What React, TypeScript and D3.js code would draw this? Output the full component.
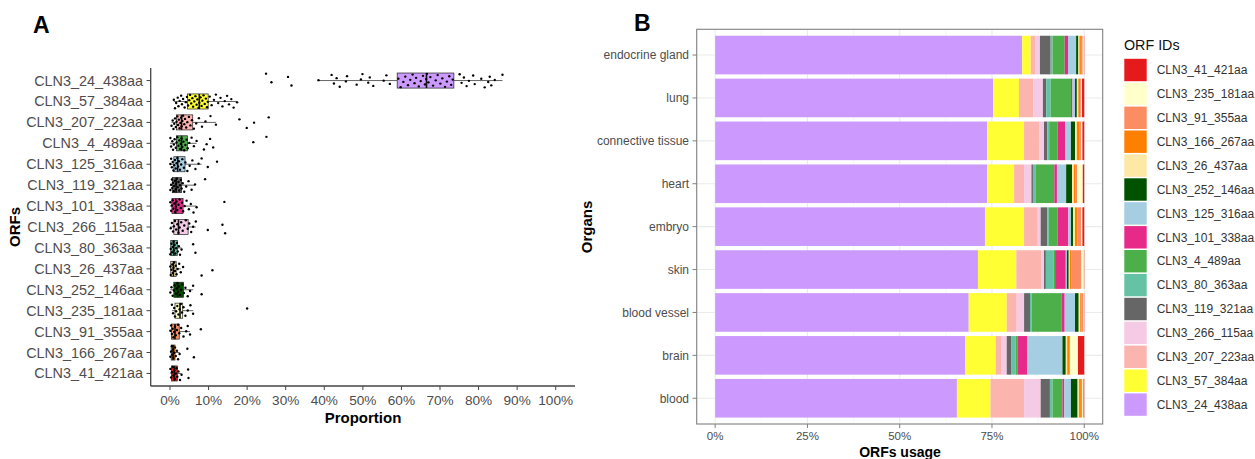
import React from 'react'
import * as d3 from 'd3'

// ---- panel A: ORF proportion boxplots (top -> bottom) ----
const orfs = [
  'CLN3_24_438aa', 'CLN3_57_384aa', 'CLN3_207_223aa', 'CLN3_4_489aa', 'CLN3_125_316aa',
  'CLN3_119_321aa', 'CLN3_101_338aa', 'CLN3_266_115aa', 'CLN3_80_363aa', 'CLN3_26_437aa',
  'CLN3_252_146aa', 'CLN3_235_181aa', 'CLN3_91_355aa', 'CLN3_166_267aa', 'CLN3_41_421aa',
]

const q1 = [58.9, 4.5, 1.7, 1.7, 1.0, 0.6, 0.5, 1.0, 0.2, 0.2, 1.0, 1.3, 0.4, 0.3, 0.4]
const median = [66.5, 7.6, 3.0, 3.0, 2.0, 1.6, 1.5, 2.2, 1.0, 0.9, 2.0, 2.6, 1.3, 0.8, 1.1]
const q3 = [73.6, 9.9, 5.9, 4.5, 3.9, 3.0, 3.4, 4.7, 1.9, 1.6, 3.5, 3.3, 2.4, 1.3, 1.9]
const whiskLo = [38.5, 1.0, 0.4, 0.0, 0.0, 0.0, 0.0, 0.0, 0.0, 0.0, 0.1, 0.5, 0.0, 0.0, 0.1]
const whiskHi = [86.2, 17.4, 11.9, 6.9, 8.2, 6.5, 6.9, 6.7, 3.0, 2.8, 6.0, 6.0, 5.2, 2.5, 3.0]

const pts_24_438 = [24.9, 26.3, 30.6, 31.5, 38.5, 41.9, 42.5, 43.2, 44.0, 45.6, 45.9, 48.4, 49.5, 49.9, 51.4, 51.8, 52.7, 55.4, 56.1, 57.0,
  59.2, 59.8, 60.5, 61.0, 61.7, 62.3, 62.9, 63.4, 63.8, 64.5, 65.0, 65.6, 66.1, 66.4, 66.6, 67.0, 67.5, 68.2, 68.9, 69.4, 70.1, 70.6,
  71.3, 71.8, 72.4, 72.9, 73.3, 75.1, 75.6, 76.2, 76.9, 77.5, 78.6, 79.0, 80.7, 81.6, 82.5, 82.9, 83.3, 84.2, 86.2]
const pts_57_384 = [1.0, 1.3, 1.6, 2.0, 2.2, 2.5, 2.9, 3.1, 3.4, 3.8, 4.1, 4.4, 4.7, 5.0, 5.2, 5.5, 5.8, 6.0, 6.3, 6.6, 6.9, 7.1, 7.4,
  7.6, 7.9, 8.2, 8.4, 8.7, 9.0, 9.3, 9.6, 9.8, 10.3, 10.8, 11.4, 11.9, 12.5, 13.1, 13.6, 14.2, 14.8, 15.3, 15.9, 16.5, 17.4]
const pts_207_223 = [0.4, 0.7, 0.9, 1.1, 1.3, 1.5, 1.7, 1.9, 2.1, 2.3, 2.5, 2.7, 2.9, 3.0, 3.2, 3.4, 3.7, 3.9, 4.2, 4.5, 4.9, 5.3,
  5.7, 6.2, 6.8, 7.5, 8.3, 9.2, 10.5, 11.9, 18.0, 19.9, 21.8, 25.6]
const pts_4_489 = [0.1, 0.3, 0.6, 0.8, 1.0, 1.2, 1.5, 1.7, 1.9, 2.2, 2.4, 2.6, 2.8, 3.0, 3.2, 3.5, 3.7, 4.0, 4.3, 4.6, 5.0, 5.6, 6.2,
  6.9, 8.8, 9.5, 10.4, 11.2, 21.6, 25.0]
const pts_125_316 = [0.1, 0.3, 0.5, 0.7, 0.9, 1.1, 1.3, 1.5, 1.7, 1.9, 2.1, 2.3, 2.6, 2.9, 3.2, 3.6, 4.0, 4.5, 5.1, 5.8, 6.6, 7.4, 8.2, 9.8, 12.2]
const pts_119_321 = [0.1, 0.3, 0.5, 0.6, 0.8, 1.0, 1.1, 1.3, 1.5, 1.6, 1.8, 2.0, 2.2, 2.4, 2.6, 2.8, 3.0, 3.3, 3.7, 4.2, 4.8, 5.6, 6.5, 9.1]
const pts_101_338 = [0.1, 0.3, 0.5, 0.7, 0.9, 1.1, 1.3, 1.5, 1.7, 1.9, 2.2, 2.5, 2.8, 3.1, 3.4, 3.8, 4.3, 4.9, 5.4, 6.1, 6.9, 14.1]
const pts_266_115 = [0.2, 0.5, 0.8, 1.0, 1.3, 1.6, 1.9, 2.2, 2.5, 2.9, 3.3, 3.7, 4.1, 4.6, 5.0, 5.5, 6.0, 6.7, 9.8, 13.6, 14.3]
const pts_80_363 = [0.1, 0.2, 0.4, 0.5, 0.7, 0.9, 1.0, 1.2, 1.4, 1.6, 1.8, 2.0, 2.3, 2.6, 3.0, 6.0, 6.6]
const pts_26_437 = [0.1, 0.2, 0.4, 0.6, 0.7, 0.9, 1.1, 1.3, 1.5, 1.7, 2.0, 2.4, 2.8, 3.4, 8.2, 11.0]
const pts_252_146 = [0.1, 0.4, 0.7, 1.0, 1.2, 1.5, 1.7, 1.9, 2.1, 2.3, 2.6, 2.9, 3.2, 3.6, 4.0, 4.6, 5.2, 6.0, 8.2]
const pts_235_181 = [0.5, 0.8, 1.1, 1.3, 1.6, 1.9, 2.2, 2.5, 2.8, 3.1, 3.5, 4.0, 4.6, 5.3, 6.0, 20.0]
const pts_91_355 = [0.1, 0.3, 0.5, 0.7, 0.9, 1.1, 1.3, 1.5, 1.8, 2.1, 2.4, 2.9, 3.5, 4.2, 4.6, 5.2, 8.0]
const pts_166_267 = [0.1, 0.3, 0.5, 0.6, 0.8, 0.9, 1.1, 1.3, 1.5, 1.8, 2.1, 2.5, 4.5, 6.2]
const pts_41_421 = [0.1, 0.3, 0.5, 0.7, 0.9, 1.1, 1.3, 1.5, 1.7, 1.9, 2.2, 2.6, 3.0, 4.7, 4.8]

const points = [pts_24_438, pts_57_384, pts_207_223, pts_4_489, pts_125_316, pts_119_321, pts_101_338,
  pts_266_115, pts_80_363, pts_26_437, pts_252_146, pts_235_181, pts_91_355, pts_166_267, pts_41_421]

const pctTicks = [0, 10, 20, 30, 40, 50, 60, 70, 80, 90, 100]

// ---- colours ----
const colorOf: Record<string, string> = {
  CLN3_41_421aa: '#E41A1C', CLN3_235_181aa: '#FFFFCC', CLN3_91_355aa: '#FC8D62', CLN3_166_267aa: '#FF7F00',
  CLN3_26_437aa: '#FEE8A6', CLN3_252_146aa: '#005200', CLN3_125_316aa: '#A6CEE3', CLN3_101_338aa: '#E7298A',
  CLN3_4_489aa: '#4DAF4A', CLN3_80_363aa: '#66C2A5', CLN3_119_321aa: '#666666', CLN3_266_115aa: '#F4CAE4',
  CLN3_207_223aa: '#FBB4AE', CLN3_57_384aa: '#FFFF33', CLN3_24_438aa: '#CC99FF',
}

// ---- panel B: ORF usage per organ ----
const organs = ['endocrine gland', 'lung', 'connective tissue', 'heart', 'embryo', 'skin', 'blood vessel', 'brain', 'blood']
const legendIds = [
  'CLN3_41_421aa', 'CLN3_235_181aa', 'CLN3_91_355aa', 'CLN3_166_267aa', 'CLN3_26_437aa', 'CLN3_252_146aa',
  'CLN3_125_316aa', 'CLN3_101_338aa', 'CLN3_4_489aa', 'CLN3_80_363aa', 'CLN3_119_321aa', 'CLN3_266_115aa',
  'CLN3_207_223aa', 'CLN3_57_384aa', 'CLN3_24_438aa',
]
const use_24_438 = [83.2, 75.3, 73.7, 73.7, 73.1, 71.2, 68.7, 67.8, 65.5]
const use_57_384 = [2.3, 7.0, 10.0, 7.3, 10.6, 10.4, 10.3, 8.2, 9.1]
const use_207_223 = [1.2, 3.9, 4.1, 2.7, 3.7, 6.8, 2.7, 1.6, 9.1]
const use_266_115 = [1.3, 2.6, 1.3, 2.0, 0.8, 0.7, 2.0, 1.4, 4.5]
const use_119_321 = [2.9, 0.9, 0.9, 0.4, 1.8, 0.5, 1.6, 1.3, 2.5]
const use_80_363 = [0.5, 1.2, 0.5, 0.8, 0.4, 2.1, 0.5, 1.1, 0.7]
const use_4_489 = [3.3, 5.5, 2.3, 5.0, 2.4, 0.4, 8.0, 0.6, 2.7]
const use_101_338 = [0.9, 0.4, 2.0, 0.7, 2.9, 2.9, 0.9, 2.6, 0.5]
const use_125_316 = [2.2, 0.7, 1.6, 2.5, 0.7, 0.3, 2.8, 9.5, 1.8]
const use_252_146 = [0.6, 0.5, 1.1, 1.6, 0.6, 0.5, 1.0, 0.9, 1.8]
const use_26_437 = [0.3, 0.4, 0.5, 0.5, 0.5, 0.3, 0.4, 0.4, 0.4]
const use_166_267 = [0.4, 0.5, 0.6, 0.5, 0.6, 0.5, 0.4, 0.5, 0.5]
const use_91_355 = [0.5, 0.3, 0.6, 0.4, 1.1, 2.6, 0.4, 0.3, 0.4]
const use_235_181 = [0.3, 0.2, 0.3, 1.5, 0.3, 0.7, 0.2, 2.1, 0.3]
const use_41_421 = [0.1, 0.6, 0.5, 0.4, 0.5, 0.1, 0.1, 1.7, 0.2]

const usageById: Record<string, number[]> = {
  CLN3_24_438aa: use_24_438, CLN3_57_384aa: use_57_384, CLN3_207_223aa: use_207_223, CLN3_266_115aa: use_266_115,
  CLN3_119_321aa: use_119_321, CLN3_80_363aa: use_80_363, CLN3_4_489aa: use_4_489, CLN3_101_338aa: use_101_338,
  CLN3_125_316aa: use_125_316, CLN3_252_146aa: use_252_146, CLN3_26_437aa: use_26_437, CLN3_166_267aa: use_166_267,
  CLN3_91_355aa: use_91_355, CLN3_235_181aa: use_235_181, CLN3_41_421aa: use_41_421,
}
const usageTicks = [0, 0.25, 0.5, 0.75, 1]
const usageMinor = [0.125, 0.375, 0.625, 0.875]

const FONT = 'Liberation Sans, Arial, sans-serif'
const AX = '#4d4d4d'

export default function App() {
  // panel A scales
  const xA = d3.scaleLinear().domain([-5, 105]).range([150.7, 575])
  const yA = d3.scalePoint<string>().domain(orfs).range([68, 386]).padding(0.6)
  const stepA = yA.step()
  const boxH = stepA * 0.72

  // panel B scales
  const left = 696.7, right = 1102.7, top = 29.3, bottom = 424
  const xB = d3.scaleLinear().domain([-0.05, 1.05]).range([left, right])
  const yB = d3.scalePoint<string>().domain(organs).range([top, bottom]).padding(0.6)
  const barH = yB.step() * 0.9

  const stackKeys = legendIds.slice().reverse()
  const table = organs.map((o, i) => {
    const row: any = { organ: o }
    stackKeys.forEach(k => { row[k] = usageById[k][i] })
    return row
  })
  const series = d3.stack<any>().keys(stackKeys).offset(d3.stackOffsetExpand)(table)

  return (
    <svg width={1255} height={459} style={{ position: 'absolute', left: 0, top: 0, display: 'block' }}
      fontFamily={FONT}>
      <rect width={1255} height={459} fill="#fff" />

      {/* ===== Panel A ===== */}
      <text x={33} y={33} fontSize={23} fontWeight="bold">A</text>

      {orfs.map((o, i) => {
        const cy = yA(o)!
        return (
          <g key={o}>
            <line x1={xA(whiskLo[i])} x2={xA(q1[i])} y1={cy} y2={cy} stroke="#222" strokeWidth={0.7} />
            <line x1={xA(q3[i])} x2={xA(whiskHi[i])} y1={cy} y2={cy} stroke="#222" strokeWidth={0.7} />
            <rect x={xA(q1[i])} y={cy - boxH / 2} width={xA(q3[i]) - xA(q1[i])} height={boxH}
              fill={colorOf[o]} stroke="#222" strokeWidth={0.7} />
            <line x1={xA(median[i])} x2={xA(median[i])} y1={cy - boxH / 2} y2={cy + boxH / 2} stroke="#111" strokeWidth={1.6} />
          </g>
        )
      })}
      {orfs.map((o, i) => points[i].map((v, j) => {
        const jit = (((j * 0.6180339887 + i * 0.37) % 1) - 0.5) * 0.66 * stepA
        return <circle key={o + j} cx={xA(v)} cy={yA(o)! + jit} r={1.2} fill="#000" />
      }))}

      <line x1={150.7} x2={150.7} y1={68} y2={386} stroke="#444" strokeWidth={1.3} />
      <line x1={150.7} x2={575} y1={386} y2={386} stroke="#444" strokeWidth={1.3} />
      {orfs.map(o => (
        <g key={o}>
          <line x1={146.5} x2={150.7} y1={yA(o)} y2={yA(o)} stroke="#444" strokeWidth={1} />
          <text x={143} y={yA(o)! + 5} fontSize={14.4} fill={AX} textAnchor="end">{o}</text>
        </g>
      ))}
      {pctTicks.map(t => (
        <g key={t}>
          <line x1={xA(t)} x2={xA(t)} y1={386} y2={390} stroke="#444" strokeWidth={1} />
          <text x={xA(t)} y={405} fontSize={13.6} fill={AX} textAnchor="middle">{t + '%'}</text>
        </g>
      ))}
      <text x={363} y={423} fontSize={15} fontWeight="bold" textAnchor="middle">Proportion</text>
      <text transform={`translate(20,227) rotate(-90)`} fontSize={15} fontWeight="bold" textAnchor="middle">ORFs</text>

      {/* ===== Panel B ===== */}
      <text x={634} y={31} fontSize={23} fontWeight="bold">B</text>
      <rect x={left} y={top} width={right - left} height={bottom - top} fill="#fff" />
      {usageMinor.map(t => (
        <line key={t} x1={xB(t)} x2={xB(t)} y1={top} y2={bottom} stroke="#f2f2f2" strokeWidth={0.6} />
      ))}
      {usageTicks.map(t => (
        <line key={t} x1={xB(t)} x2={xB(t)} y1={top} y2={bottom} stroke="#ebebeb" strokeWidth={1.1} />
      ))}
      {organs.map(o => (
        <line key={o} x1={left} x2={right} y1={yB(o)} y2={yB(o)} stroke="#ebebeb" strokeWidth={1.1} />
      ))}
      {series.map(s => (
        <g key={s.key} fill={colorOf[s.key]}>
          {s.map((d, i) => (
            <rect key={i} x={xB(d[0])} width={Math.max(0, xB(d[1]) - xB(d[0]))}
              y={yB(organs[i])! - barH / 2} height={barH} />
          ))}
        </g>
      ))}
      <rect x={left} y={top} width={right - left} height={bottom - top} fill="none" stroke="#808080" strokeWidth={1.1} />
      {organs.map(o => (
        <g key={o}>
          <line x1={692.5} x2={left} y1={yB(o)} y2={yB(o)} stroke="#808080" strokeWidth={1} />
          <text x={689} y={yB(o)! + 4.3} fontSize={12} fill={AX} textAnchor="end">{o}</text>
        </g>
      ))}
      {usageTicks.map(t => (
        <g key={t}>
          <line x1={xB(t)} x2={xB(t)} y1={bottom} y2={bottom + 4} stroke="#808080" strokeWidth={1} />
          <text x={xB(t)} y={440} fontSize={11.5} fill={AX} textAnchor="middle">{d3.format('.0%')(t)}</text>
        </g>
      ))}
      <text x={900} y={457} fontSize={14} fontWeight="bold" textAnchor="middle">ORFs usage</text>
      <text transform={`translate(592,227) rotate(-90)`} fontSize={15} fontWeight="bold" textAnchor="middle">Organs</text>

      {/* legend */}
      <text x={1124} y={50} fontSize={14.3} fill="#111">ORF IDs</text>
      {legendIds.map((id, i) => {
        const cy = 70 + i * 23.9
        return (
          <g key={id}>
            <rect x={1124.3} y={cy - 11.2} width={22.4} height={22.4} fill={colorOf[id]} />
            <text x={1156.7} y={cy + 4.2} fontSize={12} fill="#333">{id}</text>
          </g>
        )
      })}
    </svg>
  )
}
